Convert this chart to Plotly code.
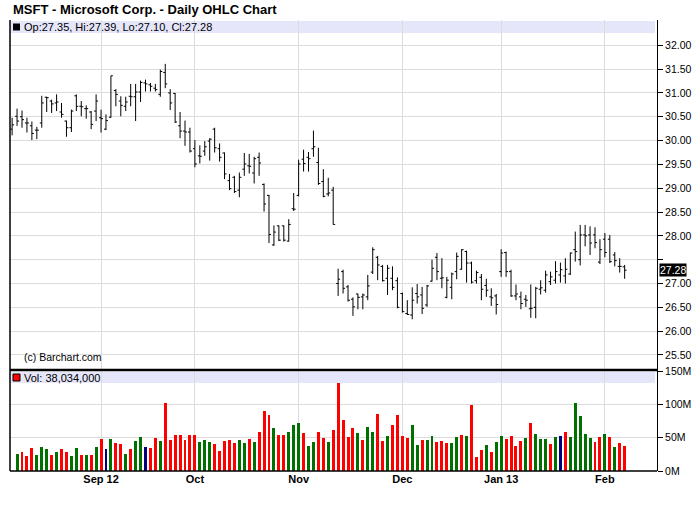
import pandas as pd
import plotly.graph_objects as go

# ---------------- data ----------------
holidays = ['2012-09-03', '2012-10-29', '2012-10-30', '2012-11-22',
            '2012-12-25', '2013-01-01', '2013-01-21']
dates = [d.strftime('%Y-%m-%d') for d in pd.bdate_range('2012-08-08', '2013-02-07')
         if d.strftime('%Y-%m-%d') not in holidays]

opens = [30.24, 30.51, 30.50, 30.37, 30.31, 30.22, 30.37, 30.91, 30.83, 30.79,
         30.60, 30.41, 30.27, 30.94, 30.72, 30.67, 30.60, 30.62, 30.48, 30.24,
         30.49, 31.05, 30.83, 30.72, 30.93, 30.92, 31.02, 31.21, 31.17, 31.10,
         30.97, 31.43, 31.00, 30.99, 30.31, 30.20, 30.18, 29.83, 29.68, 29.78,
         29.99, 30.24, 29.83, 29.74, 29.16, 29.23, 28.96, 29.40, 29.47, 29.32,
         29.65, 29.08, 28.85, 27.81, 28.21, 28.21, 27.89, 28.57, 28.85, 29.61,
         29.65, 29.83, 29.54, 29.14, 28.88, 28.96, 27.00, 27.25, 26.93, 26.67,
         26.78, 26.72, 26.72, 27.24, 27.55, 27.36, 27.11, 27.11, 27.06, 26.79,
         26.37, 26.34, 26.79, 26.76, 26.55, 27.05, 27.55, 27.11, 26.71, 26.92,
         27.25, 27.30, 27.67, 27.43, 27.06, 27.13, 26.96, 26.72, 26.74, 27.25,
         27.65, 27.25, 26.74, 26.72, 26.67, 26.47, 26.50, 26.88, 26.86, 27.04,
         27.07, 27.18, 27.16, 27.20, 27.71, 27.50, 28.02, 28.02, 28.02, 27.45,
         27.93, 27.93, 27.60, 27.36, 27.35]
highs = [30.48, 30.67, 30.63, 30.48, 30.40, 30.29, 30.94, 30.92, 30.86, 30.97,
         30.79, 30.42, 30.65, 30.97, 30.83, 30.74, 30.62, 30.97, 30.65, 30.55,
         31.36, 31.08, 30.93, 30.92, 31.19, 31.19, 31.26, 31.28, 31.21, 31.19,
         31.49, 31.61, 31.08, 31.00, 30.60, 30.42, 30.27, 30.01, 29.90, 29.99,
         30.05, 30.27, 29.94, 29.75, 29.30, 29.26, 29.33, 29.74, 29.72, 29.66,
         29.75, 29.10, 28.86, 28.22, 28.22, 28.22, 28.35, 28.90, 29.60, 29.81,
         29.76, 30.21, 29.85, 29.40, 29.22, 29.03, 27.31, 27.29, 26.97, 26.71,
         26.79, 26.79, 27.18, 27.76, 27.58, 27.39, 27.39, 27.36, 27.13, 26.81,
         26.65, 26.92, 26.99, 26.93, 26.97, 27.50, 27.64, 27.53, 27.14, 27.23,
         27.65, 27.72, 27.69, 27.46, 27.27, 27.20, 27.10, 26.90, 26.78, 27.72,
         27.67, 27.29, 26.98, 26.83, 26.76, 26.98, 26.93, 27.07, 27.27, 27.25,
         27.47, 27.44, 27.53, 27.65, 28.09, 28.23, 28.23, 28.20, 28.18, 27.93,
         28.06, 28.02, 27.66, 27.53, 27.39]
lows = [30.11, 30.31, 30.27, 30.17, 30.01, 30.03, 30.27, 30.60, 30.58, 30.62,
        30.48, 30.08, 30.18, 30.62, 30.51, 30.46, 30.24, 30.41, 30.17, 30.22,
        30.48, 30.72, 30.51, 30.62, 30.72, 30.41, 30.81, 31.03, 31.03, 31.03,
        30.92, 31.10, 30.64, 30.37, 30.05, 29.89, 29.75, 29.44, 29.52, 29.68,
        29.58, 29.75, 29.56, 29.19, 28.96, 28.90, 28.81, 29.26, 29.31, 29.10,
        29.26, 28.51, 27.85, 27.79, 27.89, 27.88, 27.88, 28.52, 28.83, 29.35,
        29.35, 29.66, 29.07, 28.81, 28.83, 28.24, 26.74, 26.79, 26.62, 26.32,
        26.46, 26.46, 26.65, 27.20, 27.07, 27.04, 26.76, 26.86, 26.48, 26.39,
        26.34, 26.25, 26.58, 26.36, 26.51, 27.04, 27.07, 26.90, 26.69, 26.67,
        27.09, 27.29, 27.02, 27.00, 27.00, 26.65, 26.72, 26.53, 26.35, 27.14,
        27.14, 26.72, 26.65, 26.46, 26.51, 26.28, 26.27, 26.77, 26.81, 26.97,
        27.00, 27.02, 27.00, 27.18, 27.46, 27.38, 27.78, 27.60, 27.74, 27.41,
        27.55, 27.43, 27.36, 27.23, 27.10]
closes = [30.33, 30.41, 30.44, 30.37, 30.15, 30.22, 30.79, 30.90, 30.77, 30.81,
          30.55, 30.27, 30.62, 30.72, 30.71, 30.67, 30.34, 30.83, 30.46, 30.42,
          31.36, 30.97, 30.74, 30.81, 30.92, 31.02, 31.22, 31.19, 31.14, 31.07,
          31.45, 31.19, 30.79, 30.39, 30.20, 30.18, 29.78, 29.51, 29.67, 29.87,
          30.03, 29.85, 29.65, 29.30, 28.99, 28.93, 29.23, 29.51, 29.46, 29.62,
          29.53, 28.67, 28.03, 28.08, 27.91, 27.91, 28.24, 28.56, 29.51, 29.52,
          29.62, 29.87, 29.10, 28.83, 28.90, 28.24, 27.09, 26.90, 26.65, 26.51,
          26.71, 26.76, 26.95, 27.71, 27.39, 27.06, 27.32, 26.92, 26.50, 26.41,
          26.35, 26.65, 26.72, 26.48, 26.95, 27.32, 27.25, 27.12, 27.07, 27.20,
          27.57, 27.71, 27.43, 27.03, 27.23, 26.88, 26.86, 26.70, 26.56, 27.64,
          27.25, 26.74, 26.78, 26.58, 26.65, 26.48, 26.90, 26.91, 27.18, 27.14,
          27.25, 27.29, 27.30, 27.64, 27.67, 28.02, 28.00, 27.85, 27.86, 27.71,
          27.65, 27.46, 27.48, 27.36, 27.28]

volumes_m = [None, 25.5, 28.5, 22.5, 34.5, 24, 36, 33, 24, 28.5,
             33, 28.5, 22.5, 34.5, 24, 24, 24, 36, 48, 33,
             48, 42, 40.5, 25.5, 33, 45, 51, 36, 34.5, 49.5,
             45, 102, 46.5, 54, 54, 46.5, 54, 54, 43.5, 46.5,
             43.5, 40.5, 30, 45, 46.5, 42, 46.5, 42, 48, 43.5,
             58.5, 90, 84, 64.5, 54, 54, 58.5, 69, 72, 57,
             37.5, 43.5, 58.5, 49.5, 43.5, 61.5, 132, 76.5, 51, 64.5,
             57, 46.5, 66, 58.5, 85.5, 45, 52.5, 69, 84, 52.5,
             49.5, 69, 39, 46.5, 46.5, 52.5, 43.5, 45, 42, 42,
             51, 54, 52.5, 99, 21, 31.5, 39, 28.5, 43.5, 52.5,
             48, 52.5, 37.5, 45, 49.5, 72, 55.5, 48, 48, 40.5,
             51, 52.5, 58.5, 51, 102, 82.5, 55.5, 49.5, 43.5, 51,
             55.5, 51, 36, 42, 38.034]
# volume bar direction: g = up, r = down, n = unchanged
vol_dir = ['r', 'g', 'r', 'r', 'r', 'g', 'g', 'g', 'r', 'g',
           'r', 'r', 'g', 'g', 'r', 'g', 'r', 'g', 'r', 'n',
           'g', 'r', 'r', 'g', 'r', 'g', 'g', 'n', 'r', 'r',
           'g', 'r', 'r', 'r', 'r', 'r', 'r', 'r', 'g', 'g',
           'g', 'r', 'r', 'r', 'r', 'r', 'g', 'g', 'r', 'g',
           'r', 'r', 'r', 'g', 'r', 'r', 'g', 'g', 'g', 'r',
           'g', 'g', 'r', 'r', 'g', 'r', 'r', 'r', 'r', 'r',
           'g', 'r', 'g', 'g', 'r', 'r', 'g', 'r', 'r', 'r',
           'r', 'g', 'g', 'r', 'g', 'g', 'r', 'r', 'r', 'g',
           'g', 'r', 'g', 'r', 'r', 'r', 'g', 'r', 'g', 'g',
           'r', 'r', 'r', 'r', 'g', 'r', 'g', 'g', 'g', 'r',
           'g', 'n', 'r', 'g', 'g', 'g', 'g', 'g', 'r', 'r',
           'g', 'r', 'g', 'r', 'r']

month_tick_dates = ['2012-09-04', '2012-10-01', '2012-11-01', '2012-12-03',
                    '2013-01-02', '2013-02-01']
month_tick_labels = ['Sep 12', 'Oct', 'Nov', 'Dec', 'Jan 13', 'Feb']
price_ticks = [25.5, 26.0, 26.5, 27.0, 27.5, 28.0, 28.5, 29.0, 29.5, 30.0,
               30.5, 31.0, 31.5, 32.0]
price_tick_labels = ['25.50', '26.00', '26.50', '27.00', '', '28.00', '28.50',
                     '29.00', '29.50', '30.00', '30.50', '31.00', '31.50', '32.00']
vol_ticks = [0, 50, 100, 150]
vol_tick_labels = ['0M', '50M', '100M', '150M']

title_text = 'MSFT - Microsoft Corp. - Daily OHLC Chart'
ohlc_legend = 'Op:27.35, Hi:27.39, Lo:27.10, Cl:27.28'
vol_legend = 'Vol: 38,034,000'
last_close = 27.28

assert len(dates) == len(opens) == len(highs) == len(lows) == len(closes) == len(volumes_m) == len(vol_dir)

# ---------------- layout helpers (page pixel -> paper) ----------------
W, H = 700, 512
PLOT_L, PLOT_R, PLOT_T, PLOT_B = 10, 657, 20, 471   # pixel coords of plot area
L, T = PLOT_L, PLOT_T
R, B = W - PLOT_R, H - PLOT_B
PW, PH = PLOT_R - PLOT_L, PLOT_B - PLOT_T


def xp(px):
    return (px - PLOT_L) / PW


def yp(py):
    return (PLOT_B - py) / PH


split = yp(370)
dir_colors = {'g': '#007000', 'r': '#FF0000', 'n': '#000080'}
grid = '#DCDCDC'
FONT = 'Liberation Sans, Arial, sans-serif'

fig = go.Figure()
fig.add_trace(go.Ohlc(
    x=dates, open=opens, high=highs, low=lows, close=closes,
    increasing=dict(line=dict(color='black', width=1)),
    decreasing=dict(line=dict(color='black', width=1)),
    tickwidth=0.4, xaxis='x', yaxis='y', hoverinfo='skip', showlegend=False))
fig.add_trace(go.Bar(
    x=dates, y=volumes_m, marker=dict(color=[dir_colors[c] for c in vol_dir], line_width=0),
    width=0.6, xaxis='x2', yaxis='y2', hoverinfo='skip', showlegend=False))

xcommon = dict(type='category', range=[-0.43, 130.55], tickvals=month_tick_dates,
               showgrid=True, gridcolor=grid, gridwidth=1, zeroline=False,
               showline=False, ticks='')
fig.update_layout(
    width=W, height=H,
    margin=dict(l=L, r=R, t=T, b=B, autoexpand=False),
    paper_bgcolor='white', plot_bgcolor='rgba(0,0,0,0)',
    font=dict(family=FONT, color='black'),
    showlegend=False, bargap=0,
    xaxis=dict(domain=[0, 1], anchor='y', showticklabels=False,
               rangeslider=dict(visible=False), **xcommon),
    xaxis2=dict(domain=[0, 1], anchor='y2', matches='x', showticklabels=True,
                ticktext=month_tick_labels,
                tickfont=dict(family=FONT, size=11, color='black', weight='bold'),
                **xcommon),
    yaxis=dict(domain=[split, 1], anchor='x', side='right',
               range=[25.185, 32.531], tickvals=price_ticks, ticktext=price_tick_labels,
               ticks='outside', ticklen=5, tickcolor='black',
               showline=True, linecolor='black', linewidth=1,
               showgrid=True, gridcolor=grid, zeroline=False,
               tickfont=dict(family=FONT, size=10.5, color='black')),
    yaxis2=dict(domain=[0, split], anchor='x2', side='right',
                range=[0, 151.5], tickvals=vol_ticks, ticktext=vol_tick_labels,
                ticks='outside', ticklen=5, tickcolor='black',
                showline=True, linecolor='black', linewidth=1,
                showgrid=True, gridcolor=grid, zeroline=False,
                tickfont=dict(family=FONT, size=10.5, color='black')),
)

shapes = [
    # legend bands
    dict(type='rect', xref='paper', yref='paper', x0=0, x1=xp(655), y0=yp(33), y1=yp(21),
         fillcolor='#E6E6FA', line=dict(width=0), layer='below'),
    dict(type='rect', xref='paper', yref='paper', x0=0, x1=xp(655), y0=yp(383), y1=yp(372),
         fillcolor='#E6E6FA', line=dict(width=0), layer='below'),
    # frame lines
    dict(type='line', xref='paper', yref='paper', x0=0, x1=0, y0=0, y1=1,
         line=dict(color='black', width=1.5)),
    dict(type='line', xref='paper', yref='paper', x0=0, x1=1, y0=0, y1=0,
         line=dict(color='black', width=1.5)),
    dict(type='line', xref='paper', yref='paper', x0=0, x1=1, y0=split, y1=split,
         line=dict(color='black', width=2.5)),
    # legend squares
    dict(type='rect', xref='paper', yref='paper', x0=xp(13), x1=xp(20), y0=yp(30.5), y1=yp(23.5),
         fillcolor='black', line=dict(width=0)),
    dict(type='rect', xref='paper', yref='paper', x0=xp(13), x1=xp(20), y0=yp(381), y1=yp(374),
         fillcolor='#FF0000', line=dict(color='black', width=1)),
]

annotations = [
    dict(text=title_text, xref='paper', yref='paper', x=xp(11), y=yp(10),
         xanchor='left', yanchor='middle', showarrow=False,
         font=dict(family=FONT, size=13, color='black', weight='bold')),
    dict(text=ohlc_legend, xref='paper', yref='paper', x=xp(22), y=yp(27),
         xanchor='left', yanchor='middle', showarrow=False,
         font=dict(family=FONT, size=11, color='black')),
    dict(text=vol_legend, xref='paper', yref='paper', x=xp(22), y=yp(377.5),
         xanchor='left', yanchor='middle', showarrow=False,
         font=dict(family=FONT, size=11, color='black')),
    dict(text='(c) Barchart.com', xref='paper', yref='paper', x=xp(22), y=yp(357),
         xanchor='left', yanchor='middle', showarrow=False,
         font=dict(family=FONT, size=10.5, color='black')),
    dict(text=f'{last_close:.2f}', xref='paper', yref='y', x=1, y=last_close,
         xanchor='left', yanchor='middle', xshift=2, showarrow=False,
         bgcolor='black', borderpad=0,
         font=dict(family=FONT, size=10.5, color='white')),
]
fig.update_layout(shapes=shapes, annotations=annotations)

# remove the browser's default 8px body margin so the figure sits at the page origin
fig.write_html('out.html',
               config={'displayModeBar': False},
               post_script="document.body.style.margin='0px';document.body.style.overflow='hidden';")
